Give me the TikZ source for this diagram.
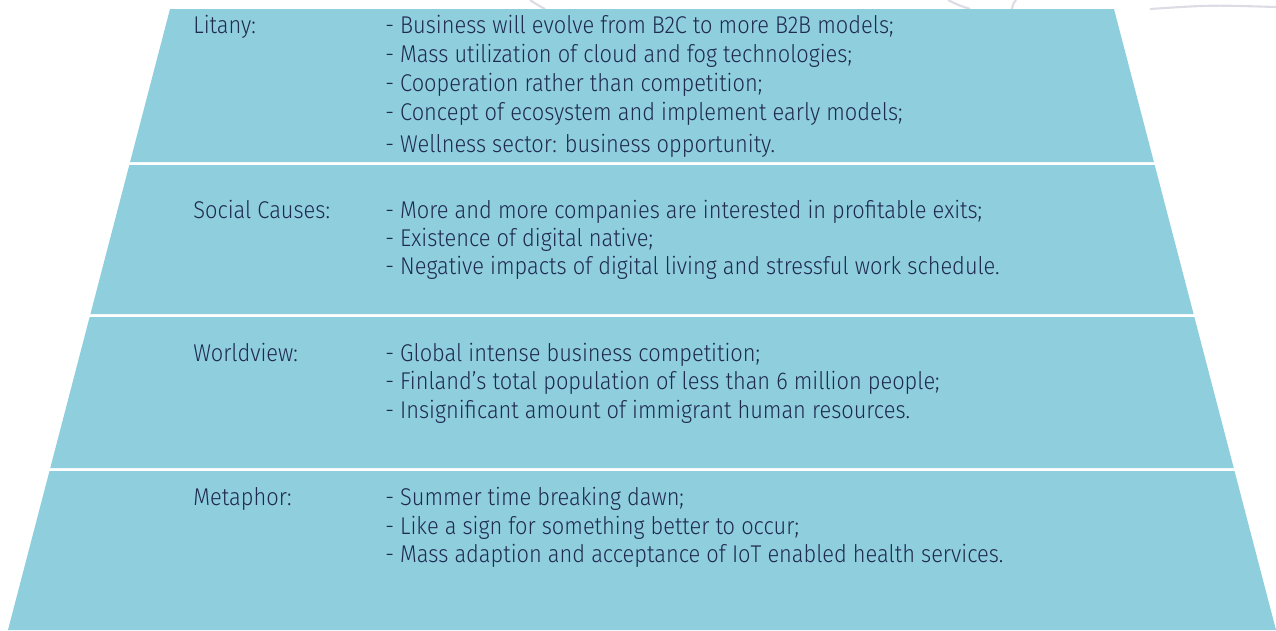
\documentclass[tikz,border=0pt]{standalone}
\usepackage{fontspec}
\setmainfont{Fira Sans Light}[FakeStretch=0.90]
\usepackage{tikz}
\definecolor{band}{HTML}{8FCEDD}
\definecolor{ink}{HTML}{1F2A4F}
\definecolor{faint}{HTML}{DCDCE4}

\tikzset{
  txt/.style={anchor=base west, inner sep=0pt, text=ink, font=\fontsize{13.8}{15}\selectfont},
}

\begin{document}
\begin{tikzpicture}[x=0.02cm, y=-0.02cm]
\useasboundingbox (0,0) rectangle (1276,630);
% faint rings behind the top edge
\draw[faint, line width=1.2pt] (530,0) .. controls (536,4) .. (545,9);
\draw[faint, line width=1.2pt] (948,0) .. controls (958,5) .. (970,9);
\draw[faint, line width=1.2pt] (1016,0) .. controls (1013,4) .. (1012,9);
\draw[faint, line width=1.2pt] (1150,9) .. controls (1210,5) .. (1276,7);
% the four layers
\foreach \ya/\yb in {9/162,165/314,317/468,471/630}
  \fill[band] ({170-0.2609*(\ya-9)},\ya) -- ({1114+0.2609*(\ya-9)},\ya)
    -- ({1114+0.2609*(\yb-9)},\yb) -- ({170-0.2609*(\yb-9)},\yb) -- cycle;

\node[txt] (lit) at (193,33) {Litany:};
\node[txt] (lit1) at (385,33) {- Business will evolve from B2C to more B2B models;};
\node[txt] (lit2) at (385,62) {- Mass utilization of cloud and fog technologies;};
\node[txt] (lit3) at (385,91) {- Cooperation rather than competition;};
\node[txt] (lit4) at (385,120) {- Concept of ecosystem and implement early models;};
\node[txt] (lit5) at (385,152) {- Wellness sector: business opportunity.};

\node[txt] (soc) at (193,218) {Social Causes:};
\node[txt] (soc1) at (385,218) {- More and more companies are interested in profitable exits;};
\node[txt] (soc2) at (385,246) {- Existence of digital native;};
\node[txt] (soc3) at (385,274) {- Negative impacts of digital living and stressful work schedule.};

\node[txt] (wor) at (193,361) {Worldview:};
\node[txt] (wor1) at (385,361) {- Global intense business competition;};
\node[txt] (wor2) at (385,389) {- Finland’s total population of less than 6 million people;};
\node[txt] (wor3) at (385,418) {- Insignificant amount of immigrant human resources.};

\node[txt] (met) at (193,505) {Metaphor:};
\node[txt] (met1) at (385,505) {- Summer time breaking dawn;};
\node[txt] (met2) at (385,534) {- Like a sign for something better to occur;};
\node[txt] (met3) at (385,562) {- Mass adaption and acceptance of IoT enabled health services.};
\end{tikzpicture}
\end{document}
